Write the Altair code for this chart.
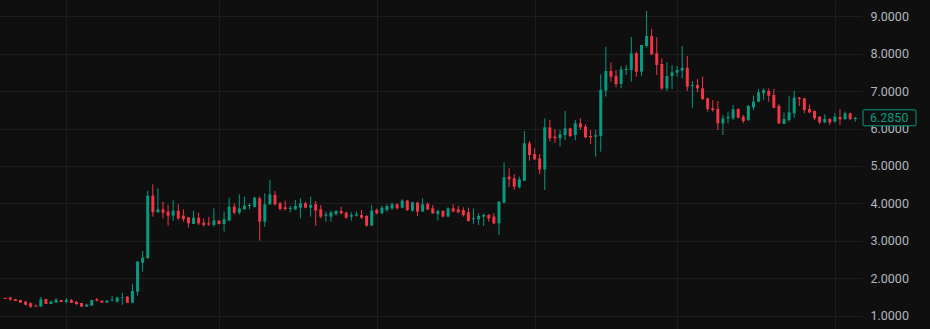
import altair as alt
import pandas as pd

# Daily candles, 2024-10-20 .. 2025-04-05 (168 days)
start_date = "2024-10-20"
n_days = 168

opens = [
    1.480, 1.489, 1.450, 1.427, 1.382, 1.338, 1.276, 1.249, 1.453, 1.320,
    1.356, 1.427, 1.373, 1.427, 1.382, 1.347, 1.249, 1.276, 1.445, 1.410,
    1.356, 1.420, 1.382, 1.490, 1.516, 1.356, 1.649, 2.422, 2.538, 4.209,
    3.764, 3.844, 3.782, 3.676, 3.809, 3.676, 3.631, 3.453, 3.622, 3.489,
    3.471, 3.427, 3.542, 3.453, 3.542, 3.916, 3.756, 3.844, 3.933, 3.916,
    4.138, 3.516, 3.978, 4.227, 4.004, 3.898, 3.853, 3.844, 3.889, 4.004,
    3.889, 3.978, 3.844, 3.676, 3.649, 3.720, 3.800, 3.756, 3.649, 3.676,
    3.693, 3.667, 3.409, 3.827, 3.738, 3.827, 3.871, 3.978, 3.889, 4.076,
    3.809, 4.022, 3.782, 3.987, 3.871, 3.720, 3.800, 3.650, 3.871, 3.845,
    3.827, 3.765, 3.580, 3.578, 3.650, 3.693, 3.650, 3.470, 4.022, 4.716,
    4.672, 4.431, 4.609, 5.605, 5.320, 5.204, 4.910, 6.031, 5.783, 5.738,
    5.827, 6.004, 5.827, 6.138, 6.050, 5.800, 5.780, 5.800, 7.009, 7.533,
    7.400, 7.187, 7.560, 7.560, 8.004, 7.515, 8.200, 8.467, 8.004, 7.720,
    7.070, 7.400, 7.489, 7.542, 7.620, 7.133, 7.160, 7.070, 6.805, 6.538,
    6.520, 6.138, 6.271, 6.271, 6.520, 6.315, 6.227, 6.564, 6.715, 6.938,
    7.000, 6.893, 6.600, 6.120, 6.227, 6.404, 6.822, 6.805, 6.520, 6.466,
    6.315, 6.164, 6.253, 6.182, 6.307, 6.253, 6.404, 6.253,
]
highs = [
    1.490, 1.515, 1.450, 1.427, 1.410, 1.365, 1.300, 1.507, 1.453, 1.410,
    1.480, 1.427, 1.480, 1.453, 1.382, 1.347, 1.330, 1.427, 1.480, 1.410,
    1.427, 1.533, 1.515, 1.620, 1.533, 1.862, 2.460, 2.733, 4.342, 4.511,
    4.404, 4.049, 3.960, 4.085, 3.978, 3.844, 3.631, 3.809, 3.756, 3.604,
    3.640, 3.870, 3.560, 3.782, 4.156, 4.004, 4.244, 4.182, 4.004, 4.182,
    4.182, 4.271, 4.627, 4.333, 4.049, 4.076, 3.933, 4.093, 4.138, 4.049,
    4.182, 4.067, 3.960, 3.782, 3.809, 3.827, 3.916, 3.782, 3.764, 3.782,
    3.827, 3.693, 3.960, 3.870, 3.942, 3.978, 4.022, 4.004, 4.111, 4.093,
    4.049, 4.049, 4.138, 4.030, 3.960, 3.840, 3.827, 3.898, 3.980, 3.940,
    3.898, 3.890, 3.870, 3.738, 3.738, 3.720, 3.738, 4.060, 5.098, 4.938,
    4.778, 4.716, 5.933, 5.667, 5.471, 5.320, 6.270, 6.227, 5.978, 5.960,
    6.467, 6.020, 6.227, 6.270, 6.110, 5.960, 5.960, 7.445, 8.180, 7.760,
    7.560, 7.667, 7.690, 8.440, 8.049, 8.230, 9.133, 8.653, 8.431, 7.871,
    7.764, 7.693, 7.667, 8.200, 7.933, 7.267, 7.320, 7.382, 6.820, 6.760,
    6.733, 6.360, 6.449, 6.627, 6.540, 6.360, 6.627, 6.875, 7.053, 7.070,
    7.070, 7.053, 6.653, 6.431, 6.875, 7.000, 6.840, 6.820, 6.644, 6.480,
    6.330, 6.378, 6.280, 6.404, 6.520, 6.449, 6.420, 6.310,
]
lows = [
    1.450, 1.410, 1.400, 1.356, 1.285, 1.213, 1.249, 1.249, 1.320, 1.320,
    1.356, 1.373, 1.338, 1.347, 1.293, 1.249, 1.249, 1.276, 1.382, 1.356,
    1.356, 1.382, 1.356, 1.300, 1.356, 1.356, 1.542, 2.182, 2.538, 3.649,
    3.764, 3.604, 3.409, 3.542, 3.560, 3.516, 3.356, 3.453, 3.427, 3.382,
    3.400, 3.380, 3.440, 3.249, 3.542, 3.711, 3.711, 3.844, 3.844, 3.889,
    3.009, 3.382, 3.960, 3.942, 3.809, 3.809, 3.764, 3.827, 3.604, 3.871,
    3.649, 3.409, 3.604, 3.516, 3.516, 3.676, 3.711, 3.587, 3.542, 3.653,
    3.587, 3.382, 3.409, 3.711, 3.711, 3.782, 3.827, 3.844, 3.871, 3.800,
    3.782, 3.670, 3.780, 3.827, 3.720, 3.543, 3.631, 3.631, 3.780, 3.740,
    3.650, 3.516, 3.454, 3.427, 3.400, 3.516, 3.445, 3.160, 4.000, 4.431,
    4.360, 4.404, 4.600, 5.142, 5.160, 4.787, 4.360, 5.650, 5.623, 5.516,
    5.690, 5.770, 5.690, 5.960, 5.740, 5.587, 5.250, 5.383, 6.850, 7.250,
    7.100, 7.070, 7.427, 7.250, 7.382, 7.400, 8.155, 7.960, 7.427, 7.027,
    7.000, 7.053, 7.382, 7.338, 7.000, 6.555, 6.965, 6.760, 6.450, 6.450,
    5.960, 5.826, 6.138, 6.227, 6.270, 6.138, 6.200, 6.493, 6.700, 6.760,
    6.715, 6.538, 6.120, 6.120, 6.182, 6.289, 6.600, 6.404, 6.404, 6.227,
    6.120, 6.140, 6.093, 6.160, 6.093, 6.230, 6.227, 6.180,
]
closes = [
    1.455, 1.436, 1.400, 1.356, 1.302, 1.249, 1.249, 1.445, 1.320, 1.382,
    1.436, 1.373, 1.427, 1.347, 1.320, 1.249, 1.302, 1.427, 1.410, 1.356,
    1.410, 1.435, 1.489, 1.505, 1.356, 1.667, 2.449, 2.556, 4.209, 3.764,
    3.844, 3.756, 3.676, 3.809, 3.604, 3.587, 3.471, 3.622, 3.471, 3.427,
    3.444, 3.550, 3.453, 3.578, 3.916, 3.756, 3.871, 3.942, 3.960, 4.156,
    3.516, 3.978, 4.244, 3.978, 3.853, 3.853, 3.889, 3.933, 4.004, 3.889,
    3.960, 3.809, 3.649, 3.711, 3.756, 3.800, 3.738, 3.622, 3.693, 3.711,
    3.622, 3.409, 3.809, 3.738, 3.889, 3.933, 3.978, 3.871, 4.076, 3.827,
    4.031, 3.782, 3.978, 3.845, 3.738, 3.800, 3.650, 3.871, 3.782, 3.765,
    3.693, 3.534, 3.605, 3.667, 3.693, 3.605, 3.470, 4.049, 4.698, 4.645,
    4.449, 4.645, 5.605, 5.294, 5.178, 4.910, 6.031, 5.738, 5.738, 5.845,
    6.004, 5.800, 6.138, 6.031, 5.765, 5.765, 5.820, 7.027, 7.533, 7.382,
    7.187, 7.578, 7.587, 8.004, 7.515, 8.227, 8.467, 7.978, 7.693, 7.070,
    7.400, 7.498, 7.560, 7.620, 7.115, 7.160, 7.070, 6.787, 6.520, 6.493,
    6.138, 6.271, 6.310, 6.511, 6.289, 6.200, 6.600, 6.715, 6.964, 7.027,
    6.875, 6.555, 6.138, 6.253, 6.431, 6.822, 6.787, 6.493, 6.431, 6.271,
    6.164, 6.253, 6.164, 6.315, 6.245, 6.404, 6.253, 6.285,
]

price_ticks = [1, 2, 3, 4, 5, 6, 7, 8, 9]

UP = "#089981"
DOWN = "#f23645"
BG = "#0f0f0f"
GRID = "#1e1e1e"
TEXT = "#b2b5be"
FONT = "Roboto"

dates = [d.strftime("%Y-%m-%d") for d in pd.date_range(start_date, periods=n_days, freq="D")]
df = pd.DataFrame({"date": dates, "open": opens, "high": highs, "low": lows, "close": closes})
df["high"] = df[["high", "open", "close"]].max(axis=1)
df["low"] = df[["low", "open", "close"]].min(axis=1)
df["dir"] = ["up" if c >= o else "down" for o, c in zip(df["open"], df["close"])]

x_scale = alt.Scale(
    type="utc",
    domain=[
        alt.DateTime(year=2024, month=10, date=19, hours=23, minutes=2, utc=True),
        alt.DateTime(year=2025, month=4, date=5, hours=8, minutes=10, utc=True),
    ],
)
y_scale = alt.Scale(domain=[0.6533, 9.4267], nice=False, zero=False)

x_enc = alt.X(
    "date:T",
    scale=x_scale,
    axis=alt.Axis(
        labels=False, ticks=False, domain=False, title=None, grid=True,
        gridColor=GRID, gridWidth=1, tickCount="month",
    ),
)
color_enc = alt.Color(
    "dir:N", scale=alt.Scale(domain=["up", "down"], range=[UP, DOWN]), legend=None
)

base = alt.Chart(df)

wicks = base.mark_rule(strokeWidth=1).encode(
    x=x_enc,
    y=alt.Y(
        "low:Q",
        scale=y_scale,
        axis=alt.Axis(
            orient="right", values=price_ticks, format=".4f", title=None,
            grid=True, gridColor=GRID, gridWidth=1, domain=False, ticks=False,
            labelColor=TEXT, labelFont=FONT, labelFontSize=12.5, labelPadding=8,
            zindex=0,
        ),
    ),
    y2="high:Q",
    color=color_enc,
)

bodies = base.mark_bar(size=3).encode(
    x=alt.X("date:T", scale=x_scale),
    y=alt.Y("open:Q", scale=y_scale),
    y2="close:Q",
    color=color_enc,
)

last = df.tail(1).copy()
last["label"] = [f"{v:.4f}" for v in last["close"]]

price_box = alt.Chart(last).mark_rect(
    fill=BG, stroke=UP, strokeWidth=1, yOffset=-8, y2Offset=8, cornerRadius=1
).encode(
    x=alt.value(863),
    x2=alt.value(916),
    y=alt.Y("close:Q", scale=y_scale),
    y2=alt.Y2("close:Q"),
)

price_text = alt.Chart(last).mark_text(
    align="left", baseline="middle", color=UP, font=FONT, fontSize=12.5
).encode(
    x=alt.value(870),
    y=alt.Y("close:Q", scale=y_scale),
    text="label:N",
)

chart = (
    alt.layer(wicks, bodies, price_box, price_text)
    .properties(
        width=862,
        height=329,
        autosize=alt.AutoSizeParams(type="none"),
        padding={"left": 0, "top": 0, "right": 68, "bottom": 0},
        background=BG,
    )
    .configure_view(stroke=None)
)

chart.save("out.html", embed_options={"renderer": "svg", "actions": False})
